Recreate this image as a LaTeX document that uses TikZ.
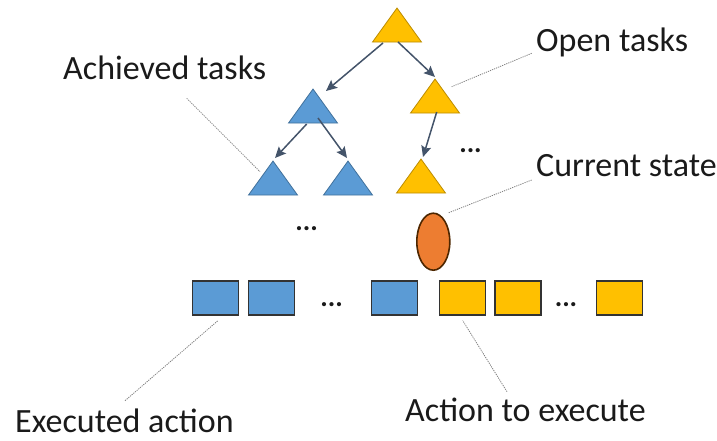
\documentclass[tikz,border=0pt]{standalone}
\usepackage{fontspec}
\setmainfont{Carlito}
\usetikzlibrary{shapes.geometric,arrows.meta,calc}
\definecolor{taskblue}{HTML}{5B9BD5}
\definecolor{taskblueline}{HTML}{41719C}
\definecolor{taskyellow}{HTML}{FFC000}
\definecolor{taskyellowline}{HTML}{BC8C00}
\definecolor{stateorange}{HTML}{ED7D31}
\definecolor{stateline}{HTML}{4D2600}
\definecolor{arrowgray}{HTML}{44546A}
\definecolor{leadergray}{HTML}{808080}
\definecolor{textblack}{HTML}{1A1A1A}
\tikzset{
  task/.style={isosceles triangle, isosceles triangle stretches, shape border rotate=90,
    minimum width=49, minimum height=34, inner sep=0pt, anchor=apex, line width=0.8pt},
  donetask/.style={task, fill=taskblue, draw=taskblueline},
  opentask/.style={task, fill=taskyellow, draw=taskyellowline},
  action/.style={rectangle, minimum width=46, minimum height=34, inner sep=0pt,
    draw=black!80, line width=1.2pt},
  doneaction/.style={action, fill=taskblue},
  openaction/.style={action, fill=taskyellow},
  treearrow/.style={draw=arrowgray, line width=1.5pt,
    -{Stealth[length=11pt,width=10pt,inset=2pt]}},
  leader/.style={draw=leadergray, line width=0.8pt, dash pattern=on 1.2pt off 1pt},
  caption/.style={anchor=base west, inner sep=0pt, text=textblack,
    font=\fontsize{34}{40}\selectfont},
  ellipsis/.style={anchor=base, inner sep=0pt, text=textblack,
    font=\fontsize{28}{32}\selectfont\bfseries},
}
\begin{document}
\begin{tikzpicture}[x=1pt,y=-1pt]
\useasboundingbox (0,0) rectangle (717,441);

% task tree
\node[opentask] (t0) at (397,7) {};
\node[donetask] (t1) at (313,88) {};
\node[opentask] (t2) at (435,78) {};
\node[donetask] (t3) at (273,160) {};
\node[donetask] (t4) at (348,160) {};
\node[opentask] (t5) at (421,158) {};

\draw[treearrow] ($(t0.apex)+(-14,36)$) -- ($(t1.apex)+(13,3)$);
\draw[treearrow] ($(t0.apex)+(1,35)$) -- ($(t2.apex)+(0,-1)$);
\draw[treearrow] ($(t2.apex)+(1.7,34)$) -- ($(t5.apex)+(2,-1)$);
\draw[treearrow] ($(t1.apex)+(-6.3,36)$) -- ($(t3.apex)+(2,-2)$);
\draw[treearrow] ($(t1.apex)+(5,30)$) -- ($(t4.apex)+(-1,-2)$);

\node[ellipsis] (dtree) at (470.5,152.3) {...};
\node[ellipsis] (dsub) at (306.7,230.8) {...};

% current state
\node[ellipse, minimum width=33, minimum height=57, inner sep=0pt,
  fill=stateorange, draw=stateline, line width=1.6pt] (cs) at (433.3,241.7) {};

% action sequence
\node[doneaction] (a1) at (215.3,298) {};
\node[doneaction] (a2) at (271.3,298) {};
\node[ellipsis] (d1) at (331.7,306.8) {...};
\node[doneaction] (a3) at (394.7,298) {};
\node[openaction] (a4) at (462.2,298) {};
\node[openaction] (a5) at (518,298) {};
\node[ellipsis] (d2) at (566,306.8) {...};
\node[openaction] (a6) at (619.7,298) {};

% captions
\node[caption] (lachieved) at (63,80) {Achieved tasks};
\node[caption] (lopen) at (536,51.7) {Open tasks};
\node[caption] (lcurrent) at (536,176.7) {Current state};
\node[caption] (lexecuted) at (15,432) {Executed action};
\node[caption] (ltodo) at (405,421.7) {Action to execute};

% leader lines
\coordinate (pachieved) at (186.7,98.3);
\coordinate (popen) at (531.7,53.3);
\coordinate (pcurrent) at (531.7,180);
\coordinate (pexecuted) at (125,400.7);
\coordinate (ptodo) at (507,391.7);
\draw[leader] (pachieved) -- ($(t3.apex)+(-13,11.7)$);
\draw[leader] (popen) -- ($(t2.apex)+(16.7,8.7)$);
\draw[leader] (pcurrent) -- ($(cs.center)+(14.7,-28.7)$);
\draw[leader] (pexecuted) -- ($(a1.south)+(2.7,5)$);
\draw[leader] (ptodo) -- ($(a4.south)+(0.5,5)$);
\end{tikzpicture}
\end{document}
